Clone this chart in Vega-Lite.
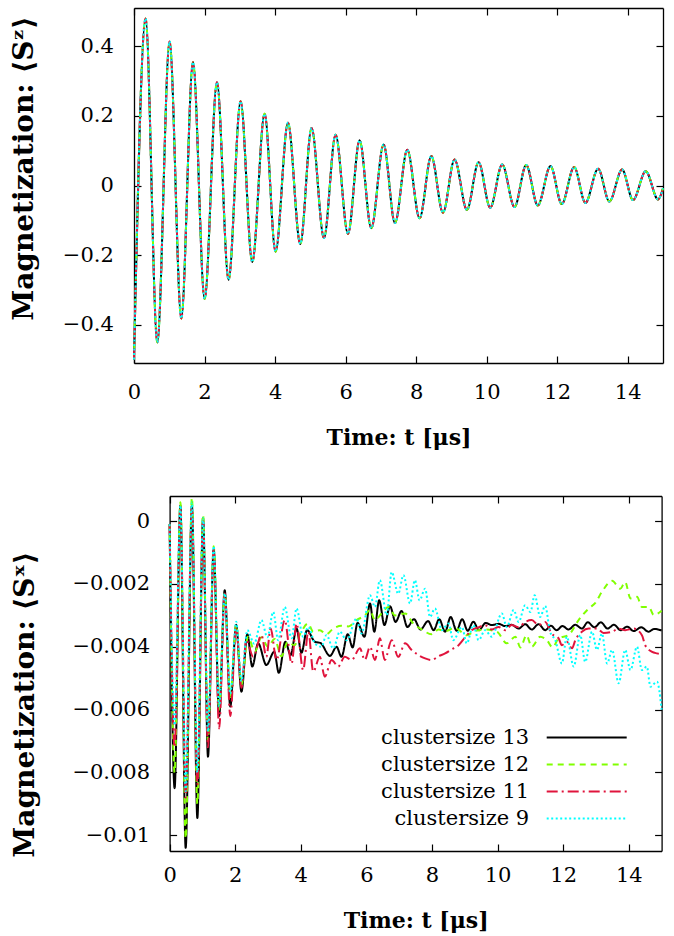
{
  "$schema": "https://vega.github.io/schema/vega-lite/v6.json",
  "padding": {"left": 10, "top": 7, "right": 2, "bottom": 2},
  "spacing": 44,
  "config": {
    "view": {"stroke": null},
    "font": "DejaVu Serif",
    "axis": {
      "domain": true, "domainColor": "#000000", "domainWidth": 1.3, "grid": false,
      "labelFont": "DejaVu Serif", "labelFontSize": 21, "labelColor": "#000000",
      "labelFlush": false, "labelOverlap": false, "labelBound": false,
      "tickColor": "#000000", "tickSize": -7, "tickWidth": 1.2,
      "titleFont": "DejaVu Serif", "titleColor": "#000000", "titleFontWeight": "bold"
    }
  },
  "datasets": {
    "sz": [
      {"t": 0, "sz": -0.5}, {"t": 0.329, "sz": 0.48}, {"t": 0.661, "sz": -0.451}, {"t": 1.009, "sz": 0.414},
      {"t": 1.341, "sz": -0.382}, {"t": 1.673, "sz": 0.355}, {"t": 2.002, "sz": -0.326}, {"t": 2.353, "sz": 0.297},
      {"t": 2.682, "sz": -0.271}, {"t": 3.022, "sz": 0.242}, {"t": 3.354, "sz": -0.22}, {"t": 3.703, "sz": 0.206},
      {"t": 4.015, "sz": -0.19}, {"t": 4.366, "sz": 0.18}, {"t": 4.715, "sz": -0.168}, {"t": 5.035, "sz": 0.165},
      {"t": 5.387, "sz": -0.151}, {"t": 5.716, "sz": 0.146}, {"t": 6.068, "sz": -0.139}, {"t": 6.397, "sz": 0.13},
      {"t": 6.728, "sz": -0.123}, {"t": 7.077, "sz": 0.118}, {"t": 7.4, "sz": -0.108}, {"t": 7.749, "sz": 0.103},
      {"t": 8.098, "sz": -0.094}, {"t": 8.43, "sz": 0.085}, {"t": 8.761, "sz": -0.078}, {"t": 9.09, "sz": 0.075},
      {"t": 9.441, "sz": -0.07}, {"t": 9.77, "sz": 0.067}, {"t": 10.1, "sz": -0.064}, {"t": 10.44, "sz": 0.06},
      {"t": 10.79, "sz": -0.062}, {"t": 11.12, "sz": 0.059}, {"t": 11.45, "sz": -0.0575}, {"t": 11.81, "sz": 0.056},
      {"t": 12.13, "sz": -0.0535}, {"t": 12.48, "sz": 0.053}, {"t": 12.8, "sz": -0.05}, {"t": 13.16, "sz": 0.048},
      {"t": 13.48, "sz": -0.046}, {"t": 13.84, "sz": 0.046}, {"t": 14.15, "sz": -0.042}, {"t": 14.51, "sz": 0.041},
      {"t": 14.86, "sz": -0.04}, {"t": 15, "sz": -0.008}
    ],
    "sx": [
      {"series": "clustersize 13", "t": 0, "sx": -0.0001},
      {"series": "clustersize 13", "t": 0.153, "sx": -0.0085},
      {"series": "clustersize 13", "t": 0.327, "sx": 0.0005},
      {"series": "clustersize 13", "t": 0.49, "sx": -0.0104},
      {"series": "clustersize 13", "t": 0.68, "sx": 0.0005},
      {"series": "clustersize 13", "t": 0.846, "sx": -0.00945},
      {"series": "clustersize 13", "t": 1.02, "sx": 0.0001},
      {"series": "clustersize 13", "t": 1.17, "sx": -0.0075},
      {"series": "clustersize 13", "t": 1.344, "sx": -0.0009},
      {"series": "clustersize 13", "t": 1.51, "sx": -0.0062},
      {"series": "clustersize 13", "t": 1.68, "sx": -0.0022},
      {"series": "clustersize 13", "t": 1.85, "sx": -0.0059},
      {"series": "clustersize 13", "t": 2.03, "sx": -0.0033},
      {"series": "clustersize 13", "t": 2.19, "sx": -0.00543},
      {"series": "clustersize 13", "t": 2.37, "sx": -0.0036},
      {"series": "clustersize 13", "t": 2.52, "sx": -0.00463},
      {"series": "clustersize 13", "t": 2.7, "sx": -0.00389},
      {"series": "clustersize 13", "t": 2.95, "sx": -0.00458},
      {"series": "clustersize 13", "t": 3.19, "sx": -0.00416},
      {"series": "clustersize 13", "t": 3.33, "sx": -0.00483},
      {"series": "clustersize 13", "t": 3.53, "sx": -0.00384},
      {"series": "clustersize 13", "t": 3.69, "sx": -0.00426},
      {"series": "clustersize 13", "t": 3.87, "sx": -0.00342},
      {"series": "clustersize 13", "t": 4.02, "sx": -0.00419},
      {"series": "clustersize 13", "t": 4.19, "sx": -0.00347},
      {"series": "clustersize 13", "t": 4.43, "sx": -0.00384},
      {"series": "clustersize 13", "t": 4.6, "sx": -0.00388},
      {"series": "clustersize 13", "t": 4.89, "sx": -0.00429},
      {"series": "clustersize 13", "t": 5.09, "sx": -0.004},
      {"series": "clustersize 13", "t": 5.24, "sx": -0.00432},
      {"series": "clustersize 13", "t": 5.43, "sx": -0.0036},
      {"series": "clustersize 13", "t": 5.58, "sx": -0.00402},
      {"series": "clustersize 13", "t": 5.73, "sx": -0.00324},
      {"series": "clustersize 13", "t": 5.94, "sx": -0.00368},
      {"series": "clustersize 13", "t": 6.11, "sx": -0.00262},
      {"series": "clustersize 13", "t": 6.24, "sx": -0.00352},
      {"series": "clustersize 13", "t": 6.39, "sx": -0.00252},
      {"series": "clustersize 13", "t": 6.55, "sx": -0.00331},
      {"series": "clustersize 13", "t": 6.72, "sx": -0.00271},
      {"series": "clustersize 13", "t": 6.89, "sx": -0.00321},
      {"series": "clustersize 13", "t": 7.07, "sx": -0.00286},
      {"series": "clustersize 13", "t": 7.25, "sx": -0.00337},
      {"series": "clustersize 13", "t": 7.45, "sx": -0.00312},
      {"series": "clustersize 13", "t": 7.65, "sx": -0.00345},
      {"series": "clustersize 13", "t": 7.88, "sx": -0.00318},
      {"series": "clustersize 13", "t": 8.05, "sx": -0.00347},
      {"series": "clustersize 13", "t": 8.22, "sx": -0.00312},
      {"series": "clustersize 13", "t": 8.4, "sx": -0.00352},
      {"series": "clustersize 13", "t": 8.57, "sx": -0.00305},
      {"series": "clustersize 13", "t": 8.75, "sx": -0.00349},
      {"series": "clustersize 13", "t": 8.92, "sx": -0.00312},
      {"series": "clustersize 13", "t": 9.09, "sx": -0.00349},
      {"series": "clustersize 13", "t": 9.26, "sx": -0.0032},
      {"series": "clustersize 13", "t": 9.43, "sx": -0.00347},
      {"series": "clustersize 13", "t": 9.64, "sx": -0.00324},
      {"series": "clustersize 13", "t": 9.82, "sx": -0.00331},
      {"series": "clustersize 13", "t": 10.03, "sx": -0.00327},
      {"series": "clustersize 13", "t": 10.23, "sx": -0.00334},
      {"series": "clustersize 13", "t": 10.43, "sx": -0.0033},
      {"series": "clustersize 13", "t": 10.64, "sx": -0.00342},
      {"series": "clustersize 13", "t": 10.84, "sx": -0.00328},
      {"series": "clustersize 13", "t": 11.04, "sx": -0.00345},
      {"series": "clustersize 13", "t": 11.25, "sx": -0.00328},
      {"series": "clustersize 13", "t": 11.45, "sx": -0.00347},
      {"series": "clustersize 13", "t": 11.62, "sx": -0.00333},
      {"series": "clustersize 13", "t": 11.8, "sx": -0.00347},
      {"series": "clustersize 13", "t": 11.98, "sx": -0.00334},
      {"series": "clustersize 13", "t": 12.16, "sx": -0.00345},
      {"series": "clustersize 13", "t": 12.37, "sx": -0.0033},
      {"series": "clustersize 13", "t": 12.57, "sx": -0.00342},
      {"series": "clustersize 13", "t": 12.75, "sx": -0.00322},
      {"series": "clustersize 13", "t": 12.95, "sx": -0.00338},
      {"series": "clustersize 13", "t": 13.15, "sx": -0.00322},
      {"series": "clustersize 13", "t": 13.35, "sx": -0.00342},
      {"series": "clustersize 13", "t": 13.55, "sx": -0.0033},
      {"series": "clustersize 13", "t": 13.75, "sx": -0.00347},
      {"series": "clustersize 13", "t": 13.95, "sx": -0.00336},
      {"series": "clustersize 13", "t": 14.15, "sx": -0.0035},
      {"series": "clustersize 13", "t": 14.38, "sx": -0.00338},
      {"series": "clustersize 13", "t": 14.6, "sx": -0.00352},
      {"series": "clustersize 13", "t": 14.78, "sx": -0.00343},
      {"series": "clustersize 13", "t": 15, "sx": -0.00348},

      {"series": "clustersize 12", "t": 0, "sx": -0.0001},
      {"series": "clustersize 12", "t": 0.153, "sx": -0.008},
      {"series": "clustersize 12", "t": 0.33, "sx": 0.0006},
      {"series": "clustersize 12", "t": 0.49, "sx": -0.0101},
      {"series": "clustersize 12", "t": 0.68, "sx": 0.00075},
      {"series": "clustersize 12", "t": 0.846, "sx": -0.009},
      {"series": "clustersize 12", "t": 1.02, "sx": 0.0002},
      {"series": "clustersize 12", "t": 1.17, "sx": -0.007},
      {"series": "clustersize 12", "t": 1.344, "sx": -0.0008},
      {"series": "clustersize 12", "t": 1.51, "sx": -0.006},
      {"series": "clustersize 12", "t": 1.68, "sx": -0.0023},
      {"series": "clustersize 12", "t": 1.85, "sx": -0.0056},
      {"series": "clustersize 12", "t": 2.03, "sx": -0.0033},
      {"series": "clustersize 12", "t": 2.19, "sx": -0.0052},
      {"series": "clustersize 12", "t": 2.39, "sx": -0.00368},
      {"series": "clustersize 12", "t": 2.6, "sx": -0.00415},
      {"series": "clustersize 12", "t": 2.8, "sx": -0.0037},
      {"series": "clustersize 12", "t": 3.0, "sx": -0.004},
      {"series": "clustersize 12", "t": 3.2, "sx": -0.00375},
      {"series": "clustersize 12", "t": 3.41, "sx": -0.0043},
      {"series": "clustersize 12", "t": 3.6, "sx": -0.00385},
      {"series": "clustersize 12", "t": 3.8, "sx": -0.00395},
      {"series": "clustersize 12", "t": 4.0, "sx": -0.00355},
      {"series": "clustersize 12", "t": 4.22, "sx": -0.00326},
      {"series": "clustersize 12", "t": 4.38, "sx": -0.00352},
      {"series": "clustersize 12", "t": 4.58, "sx": -0.00347},
      {"series": "clustersize 12", "t": 4.78, "sx": -0.0036},
      {"series": "clustersize 12", "t": 4.99, "sx": -0.00342},
      {"series": "clustersize 12", "t": 5.24, "sx": -0.00333},
      {"series": "clustersize 12", "t": 5.45, "sx": -0.00335},
      {"series": "clustersize 12", "t": 5.7, "sx": -0.00315},
      {"series": "clustersize 12", "t": 5.95, "sx": -0.003},
      {"series": "clustersize 12", "t": 6.11, "sx": -0.00283},
      {"series": "clustersize 12", "t": 6.26, "sx": -0.00315},
      {"series": "clustersize 12", "t": 6.46, "sx": -0.00294},
      {"series": "clustersize 12", "t": 6.67, "sx": -0.00273},
      {"series": "clustersize 12", "t": 6.87, "sx": -0.003},
      {"series": "clustersize 12", "t": 7.18, "sx": -0.00294},
      {"series": "clustersize 12", "t": 7.43, "sx": -0.00326},
      {"series": "clustersize 12", "t": 7.69, "sx": -0.00345},
      {"series": "clustersize 12", "t": 7.99, "sx": -0.0036},
      {"series": "clustersize 12", "t": 8.2, "sx": -0.00345},
      {"series": "clustersize 12", "t": 8.4, "sx": -0.0035},
      {"series": "clustersize 12", "t": 8.7, "sx": -0.0034},
      {"series": "clustersize 12", "t": 9.06, "sx": -0.00363},
      {"series": "clustersize 12", "t": 9.3, "sx": -0.0035},
      {"series": "clustersize 12", "t": 9.6, "sx": -0.00345},
      {"series": "clustersize 12", "t": 9.98, "sx": -0.00352},
      {"series": "clustersize 12", "t": 10.28, "sx": -0.00389},
      {"series": "clustersize 12", "t": 10.54, "sx": -0.00368},
      {"series": "clustersize 12", "t": 10.7, "sx": -0.00402},
      {"series": "clustersize 12", "t": 10.88, "sx": -0.00363},
      {"series": "clustersize 12", "t": 11.04, "sx": -0.004},
      {"series": "clustersize 12", "t": 11.3, "sx": -0.00368},
      {"series": "clustersize 12", "t": 11.5, "sx": -0.00379},
      {"series": "clustersize 12", "t": 11.68, "sx": -0.00402},
      {"series": "clustersize 12", "t": 11.86, "sx": -0.00373},
      {"series": "clustersize 12", "t": 12.16, "sx": -0.00363},
      {"series": "clustersize 12", "t": 12.47, "sx": -0.00315},
      {"series": "clustersize 12", "t": 12.78, "sx": -0.00278},
      {"series": "clustersize 12", "t": 12.98, "sx": -0.0026},
      {"series": "clustersize 12", "t": 13.18, "sx": -0.00225},
      {"series": "clustersize 12", "t": 13.49, "sx": -0.0019},
      {"series": "clustersize 12", "t": 13.74, "sx": -0.00215},
      {"series": "clustersize 12", "t": 13.89, "sx": -0.00194},
      {"series": "clustersize 12", "t": 14.05, "sx": -0.00246},
      {"series": "clustersize 12", "t": 14.25, "sx": -0.00241},
      {"series": "clustersize 12", "t": 14.4, "sx": -0.00273},
      {"series": "clustersize 12", "t": 14.61, "sx": -0.00273},
      {"series": "clustersize 12", "t": 14.76, "sx": -0.00299},
      {"series": "clustersize 12", "t": 15, "sx": -0.00285},

      {"series": "clustersize 11", "t": 0, "sx": -0.0001},
      {"series": "clustersize 11", "t": 0.153, "sx": -0.0072},
      {"series": "clustersize 11", "t": 0.33, "sx": 0.0004},
      {"series": "clustersize 11", "t": 0.49, "sx": -0.0088},
      {"series": "clustersize 11", "t": 0.68, "sx": 0.0004},
      {"series": "clustersize 11", "t": 0.846, "sx": -0.0084},
      {"series": "clustersize 11", "t": 1.02, "sx": 0.0},
      {"series": "clustersize 11", "t": 1.17, "sx": -0.0072},
      {"series": "clustersize 11", "t": 1.344, "sx": -0.0009},
      {"series": "clustersize 11", "t": 1.51, "sx": -0.0066},
      {"series": "clustersize 11", "t": 1.68, "sx": -0.0023},
      {"series": "clustersize 11", "t": 1.85, "sx": -0.0062},
      {"series": "clustersize 11", "t": 2.03, "sx": -0.0034},
      {"series": "clustersize 11", "t": 2.19, "sx": -0.0053},
      {"series": "clustersize 11", "t": 2.34, "sx": -0.00379},
      {"series": "clustersize 11", "t": 2.55, "sx": -0.00432},
      {"series": "clustersize 11", "t": 2.8, "sx": -0.00363},
      {"series": "clustersize 11", "t": 2.95, "sx": -0.00432},
      {"series": "clustersize 11", "t": 3.08, "sx": -0.00342},
      {"series": "clustersize 11", "t": 3.26, "sx": -0.00442},
      {"series": "clustersize 11", "t": 3.51, "sx": -0.00315},
      {"series": "clustersize 11", "t": 3.72, "sx": -0.00453},
      {"series": "clustersize 11", "t": 3.87, "sx": -0.00326},
      {"series": "clustersize 11", "t": 4.07, "sx": -0.00474},
      {"series": "clustersize 11", "t": 4.23, "sx": -0.00352},
      {"series": "clustersize 11", "t": 4.38, "sx": -0.00479},
      {"series": "clustersize 11", "t": 4.58, "sx": -0.00432},
      {"series": "clustersize 11", "t": 4.73, "sx": -0.00495},
      {"series": "clustersize 11", "t": 4.94, "sx": -0.00442},
      {"series": "clustersize 11", "t": 5.14, "sx": -0.00463},
      {"series": "clustersize 11", "t": 5.34, "sx": -0.00432},
      {"series": "clustersize 11", "t": 5.55, "sx": -0.00442},
      {"series": "clustersize 11", "t": 5.8, "sx": -0.00405},
      {"series": "clustersize 11", "t": 5.95, "sx": -0.00442},
      {"series": "clustersize 11", "t": 6.11, "sx": -0.004},
      {"series": "clustersize 11", "t": 6.26, "sx": -0.00442},
      {"series": "clustersize 11", "t": 6.41, "sx": -0.00373},
      {"series": "clustersize 11", "t": 6.56, "sx": -0.00442},
      {"series": "clustersize 11", "t": 6.77, "sx": -0.00379},
      {"series": "clustersize 11", "t": 6.97, "sx": -0.00432},
      {"series": "clustersize 11", "t": 7.18, "sx": -0.00389},
      {"series": "clustersize 11", "t": 7.38, "sx": -0.0041},
      {"series": "clustersize 11", "t": 7.58, "sx": -0.00426},
      {"series": "clustersize 11", "t": 7.79, "sx": -0.00437},
      {"series": "clustersize 11", "t": 7.99, "sx": -0.00442},
      {"series": "clustersize 11", "t": 8.2, "sx": -0.0043},
      {"series": "clustersize 11", "t": 8.4, "sx": -0.00421},
      {"series": "clustersize 11", "t": 8.6, "sx": -0.00408},
      {"series": "clustersize 11", "t": 8.81, "sx": -0.00395},
      {"series": "clustersize 11", "t": 9.01, "sx": -0.0037},
      {"series": "clustersize 11", "t": 9.21, "sx": -0.00347},
      {"series": "clustersize 11", "t": 9.42, "sx": -0.00338},
      {"series": "clustersize 11", "t": 9.62, "sx": -0.00331},
      {"series": "clustersize 11", "t": 9.82, "sx": -0.00345},
      {"series": "clustersize 11", "t": 10.03, "sx": -0.00337},
      {"series": "clustersize 11", "t": 10.23, "sx": -0.00347},
      {"series": "clustersize 11", "t": 10.43, "sx": -0.00331},
      {"series": "clustersize 11", "t": 10.64, "sx": -0.00338},
      {"series": "clustersize 11", "t": 10.84, "sx": -0.00321},
      {"series": "clustersize 11", "t": 11.04, "sx": -0.00315},
      {"series": "clustersize 11", "t": 11.25, "sx": -0.00331},
      {"series": "clustersize 11", "t": 11.45, "sx": -0.00321},
      {"series": "clustersize 11", "t": 11.65, "sx": -0.00358},
      {"series": "clustersize 11", "t": 11.86, "sx": -0.00373},
      {"series": "clustersize 11", "t": 11.96, "sx": -0.00395},
      {"series": "clustersize 11", "t": 12.11, "sx": -0.00384},
      {"series": "clustersize 11", "t": 12.27, "sx": -0.00405},
      {"series": "clustersize 11", "t": 12.37, "sx": -0.00379},
      {"series": "clustersize 11", "t": 12.57, "sx": -0.00352},
      {"series": "clustersize 11", "t": 12.78, "sx": -0.00342},
      {"series": "clustersize 11", "t": 13.03, "sx": -0.00342},
      {"series": "clustersize 11", "t": 13.23, "sx": -0.00356},
      {"series": "clustersize 11", "t": 13.49, "sx": -0.00352},
      {"series": "clustersize 11", "t": 13.69, "sx": -0.00342},
      {"series": "clustersize 11", "t": 13.89, "sx": -0.00347},
      {"series": "clustersize 11", "t": 14.15, "sx": -0.00342},
      {"series": "clustersize 11", "t": 14.4, "sx": -0.00363},
      {"series": "clustersize 11", "t": 14.5, "sx": -0.00395},
      {"series": "clustersize 11", "t": 14.71, "sx": -0.00416},
      {"series": "clustersize 11", "t": 14.86, "sx": -0.00421},
      {"series": "clustersize 11", "t": 15, "sx": -0.00424},

      {"series": "clustersize 9", "t": 0, "sx": -0.0001},
      {"series": "clustersize 9", "t": 0.153, "sx": -0.0065},
      {"series": "clustersize 9", "t": 0.33, "sx": 0.0005},
      {"series": "clustersize 9", "t": 0.49, "sx": -0.0086},
      {"series": "clustersize 9", "t": 0.68, "sx": 0.0006},
      {"series": "clustersize 9", "t": 0.846, "sx": -0.008},
      {"series": "clustersize 9", "t": 1.02, "sx": 0.0001},
      {"series": "clustersize 9", "t": 1.17, "sx": -0.0067},
      {"series": "clustersize 9", "t": 1.344, "sx": -0.0008},
      {"series": "clustersize 9", "t": 1.51, "sx": -0.0059},
      {"series": "clustersize 9", "t": 1.68, "sx": -0.0023},
      {"series": "clustersize 9", "t": 1.85, "sx": -0.0055},
      {"series": "clustersize 9", "t": 2.03, "sx": -0.0032},
      {"series": "clustersize 9", "t": 2.19, "sx": -0.0051},
      {"series": "clustersize 9", "t": 2.37, "sx": -0.00347},
      {"series": "clustersize 9", "t": 2.58, "sx": -0.0039},
      {"series": "clustersize 9", "t": 2.8, "sx": -0.00315},
      {"series": "clustersize 9", "t": 2.98, "sx": -0.0037},
      {"series": "clustersize 9", "t": 3.16, "sx": -0.00289},
      {"series": "clustersize 9", "t": 3.31, "sx": -0.00379},
      {"series": "clustersize 9", "t": 3.51, "sx": -0.00273},
      {"series": "clustersize 9", "t": 3.72, "sx": -0.00373},
      {"series": "clustersize 9", "t": 3.87, "sx": -0.00278},
      {"series": "clustersize 9", "t": 4.07, "sx": -0.00368},
      {"series": "clustersize 9", "t": 4.23, "sx": -0.00337},
      {"series": "clustersize 9", "t": 4.43, "sx": -0.00389},
      {"series": "clustersize 9", "t": 4.63, "sx": -0.004},
      {"series": "clustersize 9", "t": 4.78, "sx": -0.00363},
      {"series": "clustersize 9", "t": 4.99, "sx": -0.00405},
      {"series": "clustersize 9", "t": 5.19, "sx": -0.00352},
      {"series": "clustersize 9", "t": 5.4, "sx": -0.00379},
      {"series": "clustersize 9", "t": 5.7, "sx": -0.0031},
      {"series": "clustersize 9", "t": 5.85, "sx": -0.00358},
      {"series": "clustersize 9", "t": 6.11, "sx": -0.00236},
      {"series": "clustersize 9", "t": 6.26, "sx": -0.00273},
      {"series": "clustersize 9", "t": 6.41, "sx": -0.00188},
      {"series": "clustersize 9", "t": 6.62, "sx": -0.00299},
      {"series": "clustersize 9", "t": 6.77, "sx": -0.00162},
      {"series": "clustersize 9", "t": 6.97, "sx": -0.00231},
      {"series": "clustersize 9", "t": 7.13, "sx": -0.00172},
      {"series": "clustersize 9", "t": 7.33, "sx": -0.00262},
      {"series": "clustersize 9", "t": 7.48, "sx": -0.00188},
      {"series": "clustersize 9", "t": 7.62, "sx": -0.00252},
      {"series": "clustersize 9", "t": 7.79, "sx": -0.00215},
      {"series": "clustersize 9", "t": 7.94, "sx": -0.00305},
      {"series": "clustersize 9", "t": 8.09, "sx": -0.00278},
      {"series": "clustersize 9", "t": 8.3, "sx": -0.00347},
      {"series": "clustersize 9", "t": 8.5, "sx": -0.00326},
      {"series": "clustersize 9", "t": 8.65, "sx": -0.00379},
      {"series": "clustersize 9", "t": 8.91, "sx": -0.00337},
      {"series": "clustersize 9", "t": 9.06, "sx": -0.00389},
      {"series": "clustersize 9", "t": 9.26, "sx": -0.00331},
      {"series": "clustersize 9", "t": 9.42, "sx": -0.00379},
      {"series": "clustersize 9", "t": 9.62, "sx": -0.00347},
      {"series": "clustersize 9", "t": 9.82, "sx": -0.00368},
      {"series": "clustersize 9", "t": 10.13, "sx": -0.00294},
      {"series": "clustersize 9", "t": 10.28, "sx": -0.00337},
      {"series": "clustersize 9", "t": 10.49, "sx": -0.00283},
      {"series": "clustersize 9", "t": 10.64, "sx": -0.00321},
      {"series": "clustersize 9", "t": 10.84, "sx": -0.00268},
      {"series": "clustersize 9", "t": 11.0, "sx": -0.00289},
      {"series": "clustersize 9", "t": 11.13, "sx": -0.00236},
      {"series": "clustersize 9", "t": 11.3, "sx": -0.00305},
      {"series": "clustersize 9", "t": 11.45, "sx": -0.0027},
      {"series": "clustersize 9", "t": 11.6, "sx": -0.00352},
      {"series": "clustersize 9", "t": 11.76, "sx": -0.00379},
      {"series": "clustersize 9", "t": 11.96, "sx": -0.00453},
      {"series": "clustersize 9", "t": 12.11, "sx": -0.00368},
      {"series": "clustersize 9", "t": 12.32, "sx": -0.00463},
      {"series": "clustersize 9", "t": 12.52, "sx": -0.00363},
      {"series": "clustersize 9", "t": 12.67, "sx": -0.00448},
      {"series": "clustersize 9", "t": 12.88, "sx": -0.00352},
      {"series": "clustersize 9", "t": 13.03, "sx": -0.0041},
      {"series": "clustersize 9", "t": 13.18, "sx": -0.00358},
      {"series": "clustersize 9", "t": 13.34, "sx": -0.00453},
      {"series": "clustersize 9", "t": 13.49, "sx": -0.0041},
      {"series": "clustersize 9", "t": 13.69, "sx": -0.00516},
      {"series": "clustersize 9", "t": 13.89, "sx": -0.0041},
      {"series": "clustersize 9", "t": 14.05, "sx": -0.00474},
      {"series": "clustersize 9", "t": 14.25, "sx": -0.004},
      {"series": "clustersize 9", "t": 14.4, "sx": -0.00474},
      {"series": "clustersize 9", "t": 14.55, "sx": -0.00463},
      {"series": "clustersize 9", "t": 14.66, "sx": -0.00527},
      {"series": "clustersize 9", "t": 14.86, "sx": -0.00511},
      {"series": "clustersize 9", "t": 15, "sx": -0.006}
    ]
  },
  "resolve": {
    "scale": {"color": "independent", "strokeDash": "independent"},
    "legend": {"color": "independent", "strokeDash": "independent"}
  },
  "vconcat": [
    {
      "width": 529,
      "height": 355,
      "data": {"name": "sz"},
      "layer": [
        {
          "encoding": {
            "x": {
              "field": "t", "type": "quantitative",
              "scale": {"domain": [0, 15], "nice": false, "zero": false},
              "axis": {"values": [0, 2, 4, 6, 8, 10, 12, 14], "title": "Time: t [μs]", "titleFontSize": 22, "labelPadding": 25.5, "titlePadding": 25}
            },
            "y": {
              "field": "sz", "type": "quantitative",
              "scale": {"domain": [-0.51, 0.51], "nice": false, "zero": false},
              "axis": {"values": [-0.4, -0.2, 0, 0.2, 0.4], "format": "~g", "title": "Magnetization: ⟨Sᶻ⟩", "titleFontSize": 28, "labelPadding": 27.7, "titlePadding": 24, "titleY": 160}
            }
          },
          "layer": [
            {"mark": {"type": "line", "interpolate": "monotone", "color": "#000000", "strokeWidth": 2}},
            {"mark": {"type": "line", "interpolate": "monotone", "color": "#80ff00", "strokeWidth": 2, "strokeDash": [6, 5]}},
            {"mark": {"type": "line", "interpolate": "monotone", "color": "#e0143c", "strokeWidth": 2, "strokeDash": [11, 4, 2, 4]}},
            {"mark": {"type": "line", "interpolate": "monotone", "color": "#00ffff", "strokeWidth": 2, "strokeDash": [2, 2.5]}}
          ]
        },
        {
          "mark": {"type": "line", "strokeOpacity": 0},
          "encoding": {
            "x": {"field": "t", "type": "quantitative", "scale": {"domain": [0, 15], "nice": false, "zero": false}, "axis": {"orient": "top", "labels": false, "title": null, "values": [0, 2, 4, 6, 8, 10, 12, 14]}},
            "y": {"field": "sz", "type": "quantitative", "scale": {"domain": [-0.51, 0.51], "nice": false, "zero": false}, "axis": {"orient": "right", "labels": false, "title": null, "values": [-0.4, -0.2, 0, 0.2, 0.4]}}
          }
        }
      ],
      "resolve": {"axis": {"x": "independent", "y": "independent"}}
    },
    {
      "width": 527.6,
      "height": 355,
      "data": {"name": "sx"},
      "layer": [
        {
          "mark": {"type": "line", "interpolate": "monotone", "strokeWidth": 2},
          "encoding": {
            "x": {
              "field": "t", "type": "quantitative",
              "scale": {"domain": [0, 15], "range": [35.6, 527.6], "nice": false, "zero": false},
              "axis": {"values": [0, 2, 4, 6, 8, 10, 12, 14], "title": "Time: t [μs]", "titleFontSize": 22, "labelPadding": 20.5, "titlePadding": 25}
            },
            "y": {
              "field": "sx", "type": "quantitative",
              "scale": {"domain": [-0.0105, 0.0008], "nice": false, "zero": false},
              "axis": {"values": [-0.01, -0.008, -0.006, -0.004, -0.002, 0], "format": "~g", "title": "Magnetization: ⟨Sˣ⟩", "titleFontSize": 28, "labelPadding": 27, "titlePadding": 32, "titleY": 208, "offset": -35.6}
            },
            "color": {
              "field": "series", "type": "nominal",
              "scale": {"domain": ["clustersize 13", "clustersize 12", "clustersize 11", "clustersize 9"], "range": ["#000000", "#80ff00", "#e0143c", "#00ffff"]},
              "legend": {"orient": "none", "legendX": 386.6, "legendY": 228, "title": null, "labelAlign": "right", "labelOffset": -71, "symbolOffset": 52.6, "symbolType": "M-3.2,0H3.2", "symbolSize": 625, "symbolStrokeWidth": 2, "labelFont": "DejaVu Serif", "labelFontSize": 21, "labelColor": "#000000", "rowPadding": 3, "padding": 0}
            },
            "strokeDash": {
              "field": "series", "type": "nominal",
              "scale": {"domain": ["clustersize 13", "clustersize 12", "clustersize 11", "clustersize 9"], "range": [[1, 0], [6, 5], [11, 4, 2, 4], [2, 2.5]]},
              "legend": {"orient": "none", "legendX": 386.6, "legendY": 228, "title": null, "labelAlign": "right", "labelOffset": -71, "symbolOffset": 52.6, "symbolType": "M-3.2,0H3.2", "symbolSize": 625, "symbolStrokeWidth": 2, "labelFont": "DejaVu Serif", "labelFontSize": 21, "labelColor": "#000000", "rowPadding": 3, "padding": 0}
            }
          }
        },
        {
          "mark": {"type": "line", "strokeOpacity": 0},
          "encoding": {
            "x": {"field": "t", "type": "quantitative", "scale": {"domain": [0, 15], "range": [35.6, 527.6], "nice": false, "zero": false}, "axis": {"orient": "top", "labels": false, "title": null, "values": [0, 2, 4, 6, 8, 10, 12, 14]}},
            "y": {"field": "sx", "type": "quantitative", "scale": {"domain": [-0.0105, 0.0008], "nice": false, "zero": false}, "axis": {"orient": "right", "labels": false, "title": null, "values": [-0.01, -0.008, -0.006, -0.004, -0.002, 0]}}
          }
        }
      ],
      "resolve": {"axis": {"x": "independent", "y": "independent"}}
    }
  ]
}
